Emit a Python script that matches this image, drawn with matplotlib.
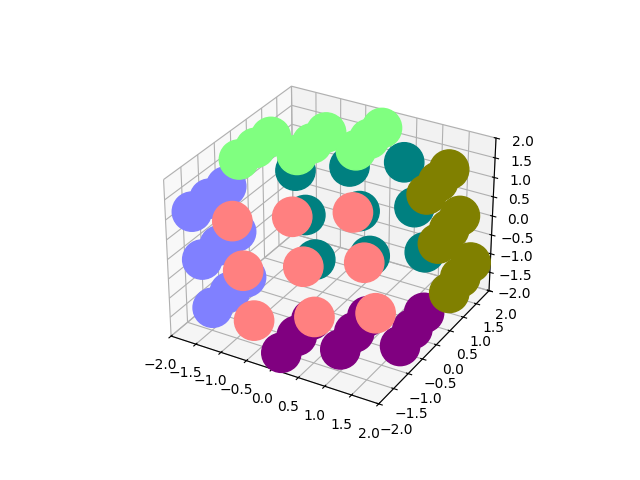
import matplotlib
matplotlib.use("Agg")
import matplotlib.pyplot as plt

# points per cube face
blue_x = [-1.177, -1.567, -1.957, -1.43, -1.82, -2.21, -1.683, -2.073, -2.463]
blue_y = [-1.938, -1.618, -1.298, -1.028, -0.708, -0.388, -0.118, 0.202, 0.522]
blue_z = [-0.949, -0.089, 0.771, -1.294, -0.434, 0.426, -1.639, -0.779, 0.081]

olive_x = [2.463, 2.073, 1.683, 2.21, 1.82, 1.43, 1.957, 1.567, 1.177]
olive_y = [-0.522, -0.202, 0.118, 0.388, 0.708, 1.028, 1.298, 1.618, 1.938]
olive_z = [-0.081, 0.779, 1.639, -0.426, 0.434, 1.294, -0.771, 0.089, 0.949]

red_x = [-0.014, -0.404, -0.794, 0.896, 0.506, 0.116, 1.806, 1.416, 1.026]
red_y = [-2.494, -2.174, -1.854, -2.14, -1.82, -1.5, -1.786, -1.466, -1.146]
red_z = [-0.387, 0.473, 1.333, -0.17, 0.69, 1.55, 0.047, 0.907, 1.767]

teal_x = [-1.026, -1.416, -1.806, -0.116, -0.506, -0.896, 0.794, 0.404, 0.014]
teal_y = [1.146, 1.466, 1.786, 1.5, 1.82, 2.14, 1.854, 2.174, 2.494]
teal_z = [-1.767, -0.907, -0.047, -1.55, -0.69, 0.17, -1.333, -0.473, 0.387]

purple_x = [0.123, -0.13, -0.383, 1.033, 0.78, 0.527, 1.943, 1.69, 1.437]
purple_y = [-1.904, -0.994, -0.084, -1.55, -0.64, 0.27, -1.196, -0.286, 0.624]
purple_z = [-1.592, -1.937, -2.282, -1.375, -1.72, -2.065, -1.158, -1.503, -1.848]

green_x = [-1.437, -1.69, -1.943, -0.527, -0.78, -1.033, 0.383, 0.13, -0.123]
green_y = [-0.624, 0.286, 1.196, -0.27, 0.64, 1.55, 0.084, 0.994, 1.904]
green_z = [1.848, 1.503, 1.158, 2.065, 1.72, 1.375, 2.282, 1.937, 1.592]

xs = blue_x + olive_x + red_x + teal_x + purple_x + green_x
ys = blue_y + olive_y + red_y + teal_y + purple_y + green_y
zs = blue_z + olive_z + red_z + teal_z + purple_z + green_z
cs = (["#8080ff"] * 9 + ["#808000"] * 9 + ["#ff8080"] * 9
      + ["#008080"] * 9 + ["#800080"] * 9 + ["#80ff80"] * 9)

fig = plt.figure(figsize=(6.4, 4.8), dpi=100)
ax = fig.add_subplot(projection="3d")
# one collection so the depth sort runs across all faces
ax.scatter(xs, ys, zs, c=cs, s=800, alpha=1, depthshade=False)
ax.set_xlim(-2, 2); ax.set_ylim(-2, 2); ax.set_zlim(-2, 2)
fig.savefig("out.png", dpi=100)
